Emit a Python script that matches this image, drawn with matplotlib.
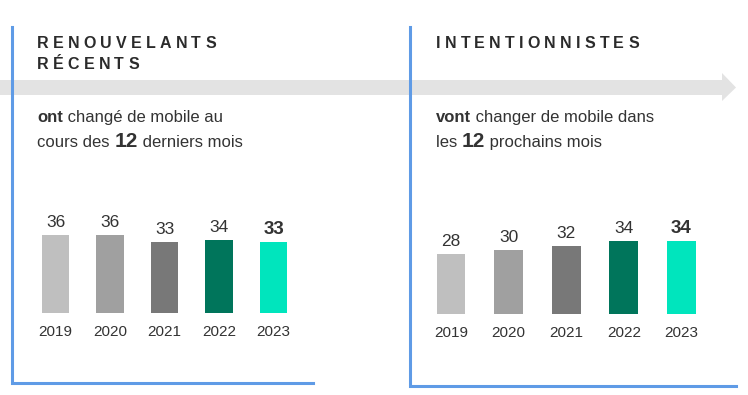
import matplotlib
matplotlib.use("Agg")
import matplotlib.pyplot as plt
from matplotlib.lines import Line2D
from matplotlib.patches import Polygon

W, H = 748, 395
DPI = 100

years = ["2019", "2020", "2021", "2022", "2023"]
renouvelants = [36, 36, 33, 34, 33]
intentionnistes = [28, 30, 32, 34, 34]
bar_colors = ["#bfbfbf", "#a0a0a0", "#787878", "#00755b", "#00e5bd"]

title_left = ["RENOUVELANTS", "RÉCENTS"]
title_right = ["INTENTIONNISTES"]
sub_left = [[("ont", "bold", 12), (" changé de mobile au", "normal", 12)],
            [("cours des ", "normal", 12), ("12", "bold", 15), (" derniers mois", "normal", 12)]]
sub_right = [[("vont", "bold", 12), (" changer de mobile dans", "normal", 12)],
             [("les ", "normal", 12), ("12", "bold", 15), (" prochains mois", "normal", 12)]]

plt.rcParams["font.family"] = ["Liberation Sans", "DejaVu Sans"]
TXT = "#333333"
BLUE = "#5f9be6"
GREY = "#e3e3e3"

fig = plt.figure(figsize=(W / DPI, H / DPI), dpi=DPI)
renderer = fig.canvas.get_renderer()


def fx(x):
    return x / W


def fy(y):
    return 1 - y / H


def text_width(s, size, weight):
    # width including spaces: measure with sentinel chars
    t = fig.text(0, 0, "|" + s + "|", fontsize=size, fontweight=weight)
    w1 = t.get_window_extent(renderer).width
    t.remove()
    t = fig.text(0, 0, "||", fontsize=size, fontweight=weight)
    w0 = t.get_window_extent(renderer).width
    t.remove()
    return w1 - w0


def draw_runs(x, y, runs, color=TXT):
    for s, weight, size in runs:
        fig.text(fx(x), fy(y), s, fontsize=size, fontweight=weight,
                 color=color, va="baseline", ha="left")
        x += text_width(s, size, weight)


def draw_spaced(x, y, s, size, tracking, color="#2b2b2b"):
    for ch in s:
        fig.text(fx(x), fy(y), ch, fontsize=size, fontweight="bold",
                 color=color, va="baseline", ha="left")
        x += text_width(ch, size, "bold") + tracking


# grey arrow
arrow = Polygon([(fx(0), fy(80)), (fx(722), fy(80)), (fx(722), fy(73)),
                 (fx(736), fy(87.5)), (fx(722), fy(101)), (fx(722), fy(95)),
                 (fx(0), fy(95))], closed=True, transform=fig.transFigure,
                facecolor=GREY, edgecolor="none", zorder=0)
fig.patches.append(arrow)

# blue frame lines
lw = 2.2
fig.lines.append(Line2D([fx(12), fx(12), fx(313)], [fy(27), fy(383), fy(383)],
                        transform=fig.transFigure, color=BLUE, lw=lw,
                        solid_joinstyle="miter", zorder=1))
fig.lines.append(Line2D([fx(410), fx(410), fx(736)], [fy(27), fy(386), fy(386)],
                        transform=fig.transFigure, color=BLUE, lw=lw,
                        solid_joinstyle="miter", zorder=1))

# titles
draw_spaced(37, 48, title_left[0], 11.5, 4.2)
draw_spaced(37, 69, title_left[1], 11.5, 4.2)
draw_spaced(436, 48, title_right[0], 11.5, 4.2)

# subtitles
draw_runs(37, 122, sub_left[0])
draw_runs(37, 147, sub_left[1])
draw_runs(436, 122, sub_right[0])
draw_runs(436, 147, sub_right[1])


def bar_panel(left_px, spacing, bottom_px, scale, values):
    n = len(values)
    width_px = spacing * n
    ymax = 40
    height_px = scale * ymax
    ax = fig.add_axes([fx(left_px), fy(bottom_px), width_px / W, height_px / H])
    ax.set_xlim(-0.5, n - 0.5)
    ax.set_ylim(0, ymax)
    ax.axis("off")
    xs = list(range(n))
    ax.bar(xs, values, width=0.5, color=bar_colors, edgecolor="none")
    for i, v in enumerate(values):
        last = i == n - 1
        ax.annotate(str(v), (i, v), xytext=(0, 8), textcoords="offset pixels",
                    ha="center", va="baseline",
                    fontsize=13.5 if last else 12.5,
                    fontweight="bold" if last else "normal", color=TXT,
                    annotation_clip=False)
        ax.annotate(years[i], (i, 0), xytext=(0, -23), textcoords="offset pixels",
                    ha="center", va="baseline", fontsize=11, color=TXT,
                    annotation_clip=False)
    return ax


bar_panel(28.25, 54.5, 313, 2.16, renouvelants)
bar_panel(422.2, 57.6, 314, 2.14, intentionnistes)

fig.savefig("out.png", dpi=DPI)
